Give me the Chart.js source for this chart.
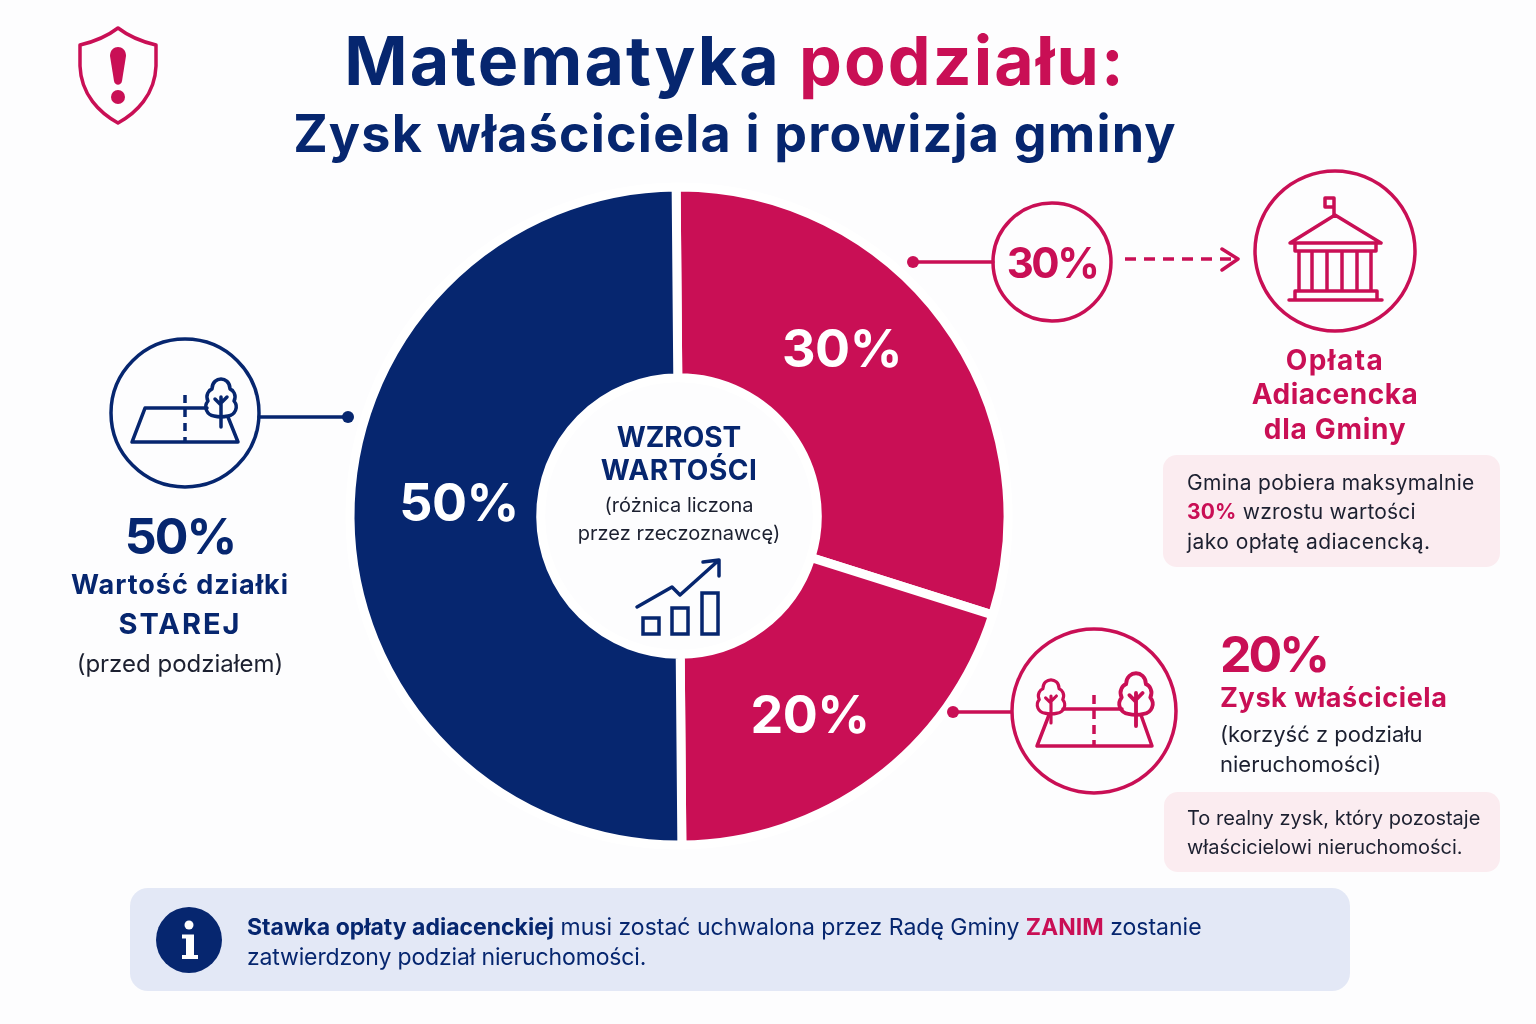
<!DOCTYPE html>
<html lang="pl">
<head>
<meta charset="utf-8">
<title>Matematyka podziału</title>
<script src="https://cdn.jsdelivr.net/npm/chart.js@4"></script>
<style>
    html, body { margin: 0; padding: 0; background: #fdfdfe; }
    #page { position: relative; width: 1536px; height: 1024px; overflow: hidden; font-family: Inter, sans-serif; color: #1c2030; }
    #myChart { position: absolute; left: 339px; top: 176px; }
    #icons { position: absolute; left: 0; top: 0; }
    .box { position: absolute; }
    .pink { background: #fbecf0; border-radius: 14px; }
    .blue { background: #e3e8f6; border-radius: 18px; }
    .t { position: absolute; white-space: nowrap; transform: translateY(-50%); }
    .c { transform: translate(-50%, -50%); }
    .navy { color: #06266f; }
    .red { color: #c90f55; }
    .b { font-weight: 700; }
    .white { color: #fff; font-weight: 700; font-size: 52px; letter-spacing: -0.5px; }
</style>
</head>
<body>
<div id="page">
    <div class="box pink" style="left:1163px;top:455px;width:337px;height:112px"></div>
    <div class="box pink" style="left:1164px;top:792px;width:336px;height:80px"></div>
    <div class="box blue" style="left:130px;top:888px;width:1220px;height:103px"></div>

    <canvas id="myChart" width="680" height="680"></canvas>

    <svg id="icons" width="1536" height="1024" fill="none" stroke-linecap="round" stroke-linejoin="round">
        <defs>
            <g id="tree">
                <path d="M-7 -1C-14 -2 -18 -10 -13 -16C-16 -22 -12 -27 -9 -28C-9 -35 -4 -38 0 -38C4 -38 9 -35 9 -28C12 -27 16 -22 13 -16C18 -10 14 -2 7 -1C3 0 -3 0 -7 -1Z"/>
                <path d="M0 -20V10M-6 -18L0 -12M6 -20L0 -14"/>
            </g>
        </defs>

        <g stroke="#c90f55">
            <path stroke-width="3.5" d="M118 28C105 38 93 42 80 45V66C81 95 100 113 118 123C136 113 155 95 156 66V45C143 42 131 38 118 28Z"/>
            <path fill="#c90f55" stroke="none" d="M110 56C110 44 126 44 126 56L122 81C121 86 115 86 114 81Z"/>
            <circle fill="#c90f55" stroke="none" cx="118" cy="97" r="7"/>

            <g stroke-width="3.5">
                <circle cx="1052" cy="262" r="59"/>
                <path d="M913 262H993"/>
                <circle fill="#c90f55" stroke="none" cx="913" cy="262" r="6"/>
                <path d="M1125 259H1232" stroke-dasharray="11 8" stroke-linecap="butt"/>
                <path d="M1222 249L1238 259L1222 270"/>
                <circle cx="1335" cy="251" r="80"/>
                <path d="M1334 215V198H1325V207H1334"/>
                <path d="M1290 243L1335 215L1381 243ZM1295 243V251H1376V243M1299 251V291M1312 251V291M1327 251V291M1342 251V291M1357 251V291M1371 251V291M1295 291H1377V300H1295ZM1289 300H1382"/>
                <circle cx="1094" cy="711" r="82"/>
                <path d="M950 712H1011"/>
                <circle fill="#c90f55" stroke="none" cx="953" cy="712" r="6"/>
                <path d="M1049 715L1037 746H1152L1141 715M1063 709H1122"/>
                <path d="M1094 695V746" stroke-dasharray="9 6" stroke-linecap="butt"/>
                <use href="#tree" transform="translate(1051 714) scale(.9)"/>
                <use href="#tree" transform="translate(1136 715) scale(1.1)"/>
            </g>
        </g>

        <g stroke="#06266f">
            <g stroke-width="3.5">
                <circle cx="185" cy="413" r="74"/>
                <path d="M259 417H348"/>
                <circle fill="#06266f" stroke="none" cx="348" cy="417" r="6"/>
                <path d="M207 408H145L132 442H238L228 417"/>
                <path d="M185 395V442" stroke-dasharray="8 6" stroke-linecap="butt"/>
                <use href="#tree" transform="translate(221 417)"/>
                <path d="M637 607L672 587L680 595L719 560M703 562L719 560V576"/>
                <path stroke-linejoin="miter" d="M643 618H659V634H643ZM672 608H688V634H672ZM702 593H718V634H702Z"/>
            </g>
            <circle fill="#06266f" stroke="none" cx="189" cy="940" r="33"/>
            <circle fill="#fff" stroke="none" cx="189" cy="925" r="4.5"/>
            <path fill="#fff" stroke="none" d="M182 934.5H194V955H198V959H182V955H186V938.5H182Z"/>
        </g>
    </svg>

    <div class="t c b navy" style="left:735px;top:60px;font-size:68px;letter-spacing:2.1px"><span>Matematyka</span> <span class="red">podziału:</span></div>
    <div class="t c b navy" style="left:735px;top:133px;font-size:52px;letter-spacing:1.2px">Zysk właściciela i prowizja gminy</div>

    <div id="slice0" class="t c white" style="left:842px;top:348px"></div>
    <div id="slice1" class="t c white" style="left:810px;top:714px"></div>
    <div id="slice2" class="t c white" style="left:459px;top:502px"></div>

    <div class="t c b navy" style="left:679px;top:437px;font-size:28px">WZROST</div>
    <div class="t c b navy" style="left:679px;top:470px;font-size:28px;letter-spacing:.5px">WARTOŚCI</div>
    <div class="t c" style="left:679px;top:505px;font-size:20px">(różnica liczona</div>
    <div class="t c" style="left:679px;top:533px;font-size:20px">przez rzeczoznawcę)</div>

    <div class="t c b navy" style="left:180px;top:536px;font-size:50px;letter-spacing:-2px">50%</div>
    <div class="t c b navy" style="left:180px;top:584px;font-size:27px;letter-spacing:1px">Wartość działki</div>
    <div class="t c b navy" style="left:180px;top:623px;font-size:29px;letter-spacing:2px">STAREJ</div>
    <div class="t c" style="left:180px;top:663px;font-size:24px">(przed podziałem)</div>

    <div class="t c b red" style="left:1052px;top:262px;font-size:42px;letter-spacing:-2.5px">30%</div>
    <div class="t c b red" style="left:1335px;top:360px;font-size:28px;letter-spacing:1.5px">Opłata</div>
    <div class="t c b red" style="left:1335px;top:394px;font-size:28px;letter-spacing:.5px">Adiacencka</div>
    <div class="t c b red" style="left:1335px;top:429px;font-size:28px;letter-spacing:.7px">dla Gminy</div>
    <div class="t" style="left:1187px;top:482px;font-size:21px;letter-spacing:.3px">Gmina pobiera maksymalnie</div>
    <div class="t" style="left:1187px;top:511px;font-size:21px;letter-spacing:.2px"><span class="b red">30%</span> wzrostu wartości</div>
    <div class="t" style="left:1187px;top:541px;font-size:21px;letter-spacing:.45px">jako opłatę adiacencką.</div>

    <div class="t b red" style="left:1220px;top:654px;font-size:50px;letter-spacing:-3px">20%</div>
    <div class="t b red" style="left:1220px;top:697px;font-size:27px;letter-spacing:.6px">Zysk właściciela</div>
    <div class="t" style="left:1220px;top:734px;font-size:22px">(korzyść z podziału</div>
    <div class="t" style="left:1220px;top:764px;font-size:22px">nieruchomości)</div>
    <div class="t" style="left:1187px;top:818px;font-size:20px">To realny zysk, który pozostaje</div>
    <div class="t" style="left:1187px;top:847px;font-size:20px">właścicielowi nieruchomości.</div>

    <div class="t navy" style="left:247px;top:927px;font-size:23px"><span class="b">Stawka opłaty adiacenckiej</span> musi zostać uchwalona przez Radę Gminy <span class="b red">ZANIM</span> zostanie</div>
    <div class="t navy" style="left:247px;top:957px;font-size:23px;letter-spacing:-.15px">zatwierdzony podział nieruchomości.</div>
</div>

<script>
const categories = ['Opłata adiacencka dla Gminy', 'Zysk właściciela', 'Wartość działki starej'];
const sliceValues = [30, 20, 50];
const sliceColors = ['#c90f55', '#c90f55', '#06266f'];

sliceValues.forEach((value, index) => {
    document.getElementById('slice' + index).textContent = value + '%';
});

const ctx = document.getElementById('myChart');
const myChart = new Chart(ctx, {
    type: 'doughnut',
    data: {
        labels: categories,
        datasets: [{
            data: sliceValues,
            backgroundColor: sliceColors,
            borderColor: '#ffffff',
            borderWidth: 9
        }]
    },
    options: {
        responsive: false,
        animation: false,
        radius: 329,
        cutout: 141,
        rotation: -0.5,
        plugins: {
            legend: { display: false },
            tooltip: { enabled: false }
        }
    }
});
</script>
</body>
</html>
